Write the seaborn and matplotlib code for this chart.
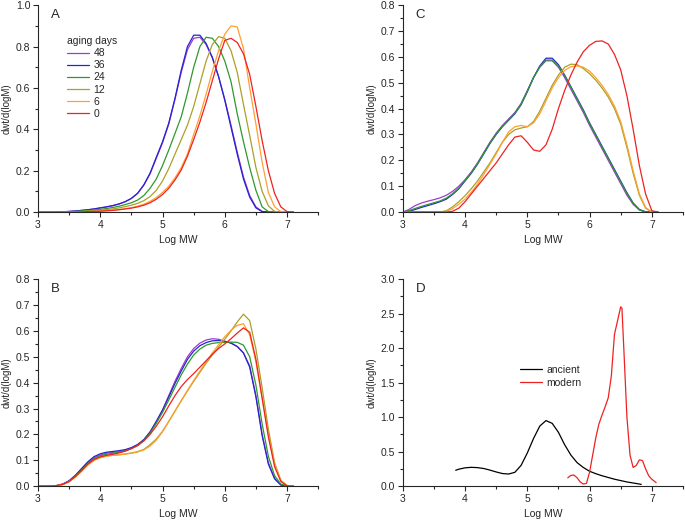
import numpy as np
import pandas as pd
import matplotlib
matplotlib.use("Agg")
import matplotlib.pyplot as plt
import seaborn as sns
from matplotlib.ticker import MultipleLocator

# ---- data ----
days = ["48", "36", "24", "12", "6", "0"]
colors = ["#a03ccc", "#2424d0", "#2e992e", "#aaa028", "#ffa030", "#ee2222"]

x_grid = [3.0, 3.1, 3.2, 3.3, 3.4, 3.5, 3.6, 3.7, 3.8, 3.9, 4.0, 4.1, 4.2, 4.3, 4.4,
          4.5, 4.6, 4.7, 4.8, 4.9, 5.0, 5.1, 5.2, 5.3, 5.4, 5.5, 5.6, 5.7, 5.8, 5.9,
          6.0, 6.1, 6.2, 6.3, 6.4, 6.5, 6.6, 6.7, 6.8, 6.9, 7.0, 7.1]

# panel A
a_48 = [0, 0, 0, 0, 0.001, 0.003, 0.005, 0.008, 0.011, 0.015, 0.02, 0.025, 0.031, 0.039, 0.05,
        0.066, 0.09, 0.13, 0.185, 0.26, 0.335, 0.425, 0.545, 0.675, 0.785, 0.84, 0.845, 0.81, 0.745, 0.655,
        0.545, 0.42, 0.29, 0.17, 0.08, 0.025, 0.003, 0, 0, 0, 0, 0]
a_36 = [0, 0, 0, 0, 0.001, 0.003, 0.005, 0.008, 0.011, 0.015, 0.02, 0.025, 0.031, 0.039, 0.05,
        0.066, 0.091, 0.132, 0.188, 0.265, 0.34, 0.43, 0.55, 0.685, 0.8, 0.855, 0.855, 0.815, 0.748, 0.655,
        0.54, 0.41, 0.28, 0.16, 0.072, 0.02, 0.002, 0, 0, 0, 0, 0]
a_24 = [0, 0, 0, 0, 0, 0.001, 0.003, 0.005, 0.007, 0.01, 0.013, 0.017, 0.022, 0.028, 0.036,
        0.045, 0.058, 0.08, 0.115, 0.16, 0.225, 0.3, 0.38, 0.46, 0.575, 0.7, 0.8, 0.845, 0.84, 0.8,
        0.73, 0.63, 0.475, 0.34, 0.215, 0.105, 0.025, 0.002, 0, 0, 0, 0]
a_12 = [0, 0, 0, 0, 0, 0, 0.001, 0.003, 0.005, 0.007, 0.009, 0.012, 0.015, 0.02, 0.026,
        0.033, 0.042, 0.055, 0.075, 0.105, 0.15, 0.21, 0.28, 0.35, 0.42, 0.51, 0.62, 0.73, 0.81, 0.848,
        0.84, 0.78, 0.675, 0.52, 0.37, 0.215, 0.1, 0.03, 0.003, 0, 0, 0]
a_6 = [0, 0, 0, 0, 0, 0, 0, 0.001, 0.002, 0.003, 0.005, 0.007, 0.009, 0.012, 0.016,
       0.021, 0.028, 0.038, 0.052, 0.07, 0.095, 0.125, 0.165, 0.215, 0.28, 0.375, 0.465, 0.57, 0.68, 0.78,
       0.86, 0.9, 0.895, 0.79, 0.6, 0.425, 0.24, 0.095, 0.025, 0.002, 0, 0]
a_0 = [0, 0, 0, 0, 0, 0, 0, 0.001, 0.002, 0.003, 0.004, 0.006, 0.008, 0.011, 0.015,
       0.019, 0.025, 0.033, 0.045, 0.062, 0.085, 0.115, 0.155, 0.203, 0.27, 0.35, 0.435, 0.53, 0.635, 0.74,
       0.83, 0.84, 0.82, 0.765, 0.665, 0.51, 0.345, 0.2, 0.09, 0.025, 0.002, 0]

# panel B
b_48 = [0, 0, 0, 0.002, 0.008, 0.02, 0.04, 0.065, 0.09, 0.11, 0.12, 0.127, 0.13, 0.133, 0.138,
        0.146, 0.158, 0.178, 0.208, 0.25, 0.295, 0.35, 0.405, 0.455, 0.5, 0.532, 0.553, 0.565, 0.57, 0.568,
        0.56, 0.553, 0.54, 0.515, 0.465, 0.35, 0.2, 0.09, 0.03, 0.005, 0, 0]
b_36 = [0, 0, 0, 0.002, 0.008, 0.021, 0.042, 0.068, 0.094, 0.114, 0.125, 0.131, 0.134, 0.137, 0.141,
        0.149, 0.161, 0.18, 0.21, 0.25, 0.293, 0.345, 0.397, 0.445, 0.49, 0.522, 0.543, 0.555, 0.562, 0.563,
        0.56, 0.553, 0.54, 0.515, 0.46, 0.345, 0.195, 0.085, 0.028, 0.004, 0, 0]
b_24 = [0, 0, 0, 0.002, 0.007, 0.019, 0.038, 0.062, 0.087, 0.106, 0.117, 0.123, 0.127, 0.131, 0.136,
        0.145, 0.157, 0.176, 0.205, 0.243, 0.285, 0.333, 0.382, 0.43, 0.472, 0.507, 0.53, 0.545, 0.552, 0.555,
        0.556, 0.557, 0.556, 0.545, 0.5, 0.39, 0.24, 0.115, 0.04, 0.008, 0, 0]
b_12 = [0, 0, 0, 0.002, 0.006, 0.017, 0.035, 0.058, 0.082, 0.1, 0.11, 0.116, 0.119, 0.121, 0.124,
        0.128, 0.133, 0.142, 0.16, 0.182, 0.212, 0.25, 0.29, 0.33, 0.368, 0.405, 0.44, 0.475, 0.507, 0.538,
        0.568, 0.6, 0.635, 0.665, 0.64, 0.53, 0.38, 0.22, 0.09, 0.022, 0.002, 0]
b_6 = [0, 0, 0, 0.002, 0.006, 0.017, 0.035, 0.058, 0.082, 0.1, 0.11, 0.116, 0.119, 0.121, 0.124,
       0.127, 0.132, 0.14, 0.155, 0.178, 0.21, 0.25, 0.29, 0.33, 0.37, 0.408, 0.445, 0.48, 0.515, 0.547,
       0.578, 0.603, 0.622, 0.628, 0.585, 0.48, 0.34, 0.2, 0.085, 0.022, 0.002, 0]
b_0 = [0, 0, 0, 0.002, 0.007, 0.018, 0.037, 0.06, 0.085, 0.103, 0.113, 0.119, 0.123, 0.128, 0.135,
       0.145, 0.157, 0.175, 0.2, 0.232, 0.268, 0.31, 0.35, 0.385, 0.412, 0.435, 0.46, 0.485, 0.51, 0.532,
       0.55, 0.57, 0.592, 0.612, 0.595, 0.49, 0.34, 0.19, 0.075, 0.018, 0.001, 0]

# panel C
c_48 = [0, 0.01, 0.025, 0.035, 0.042, 0.048, 0.055, 0.065, 0.08, 0.1, 0.125, 0.155, 0.19, 0.23, 0.27,
        0.305, 0.335, 0.36, 0.385, 0.42, 0.47, 0.52, 0.56, 0.585, 0.585, 0.56, 0.52, 0.475, 0.43, 0.385,
        0.335, 0.29, 0.245, 0.2, 0.155, 0.11, 0.065, 0.03, 0.008, 0, 0, 0]
c_36 = [0, 0.003, 0.01, 0.018, 0.025, 0.032, 0.04, 0.05, 0.068, 0.09, 0.12, 0.15, 0.185, 0.225, 0.265,
        0.3, 0.33, 0.355, 0.38, 0.415, 0.465, 0.52, 0.565, 0.595, 0.595, 0.57, 0.53, 0.485, 0.44, 0.395,
        0.345, 0.3, 0.255, 0.21, 0.165, 0.12, 0.075, 0.035, 0.01, 0.001, 0, 0]
c_24 = [0, 0.005, 0.014, 0.022, 0.029, 0.036, 0.043, 0.054, 0.071, 0.093, 0.122, 0.152, 0.187, 0.227, 0.267,
        0.302, 0.332, 0.357, 0.382, 0.417, 0.467, 0.52, 0.562, 0.588, 0.588, 0.565, 0.527, 0.482, 0.437, 0.392,
        0.342, 0.297, 0.252, 0.207, 0.162, 0.117, 0.072, 0.033, 0.009, 0, 0, 0]
c_12 = [0, 0, 0, 0, 0, 0, 0, 0.005, 0.02, 0.04, 0.063, 0.09, 0.12, 0.155, 0.19,
        0.23, 0.27, 0.3, 0.318, 0.325, 0.33, 0.35, 0.39, 0.44, 0.49, 0.53, 0.56, 0.572, 0.57, 0.555,
        0.535, 0.51, 0.48, 0.445, 0.4, 0.34, 0.25, 0.15, 0.065, 0.015, 0, 0]
c_6 = [0, 0, 0, 0, 0, 0, 0, 0.003, 0.013, 0.03, 0.05, 0.077, 0.108, 0.145, 0.185,
       0.225, 0.27, 0.31, 0.33, 0.335, 0.33, 0.345, 0.38, 0.43, 0.48, 0.52, 0.548, 0.562, 0.565, 0.56,
       0.545, 0.52, 0.49, 0.455, 0.41, 0.35, 0.26, 0.16, 0.07, 0.018, 0, 0]
c_0 = [0, 0, 0, 0, 0, 0, 0, 0, 0.003, 0.015, 0.04, 0.07, 0.1, 0.13, 0.16,
       0.19, 0.225, 0.26, 0.29, 0.295, 0.27, 0.24, 0.235, 0.26, 0.32, 0.4, 0.47, 0.53, 0.58, 0.62,
       0.645, 0.66, 0.662, 0.65, 0.61, 0.55, 0.45, 0.32, 0.18, 0.07, 0.005, 0]

# panel D
ancient_x = [3.85, 3.9, 4.0, 4.1, 4.2, 4.3, 4.4, 4.5, 4.6, 4.7, 4.8, 4.9, 5.0, 5.1, 5.2, 5.3,
             5.4, 5.5, 5.6, 5.7, 5.8, 5.9, 6.0, 6.1, 6.2, 6.3, 6.4, 6.5, 6.6, 6.7, 6.8, 6.83]
ancient_y = [0.23, 0.245, 0.265, 0.272, 0.268, 0.255, 0.232, 0.205, 0.182, 0.175, 0.2, 0.3, 0.48, 0.69,
             0.87, 0.95, 0.91, 0.78, 0.6, 0.45, 0.34, 0.27, 0.215, 0.18, 0.15, 0.125, 0.1, 0.08, 0.06,
             0.045, 0.03, 0.025]
modern_x = [5.65, 5.7, 5.75, 5.8, 5.85, 5.9, 5.95, 6.0, 6.05, 6.1, 6.15, 6.2, 6.25, 6.3, 6.35, 6.4,
            6.45, 6.5, 6.52, 6.55, 6.6, 6.65, 6.7, 6.75, 6.8, 6.85, 6.9, 6.95, 7.0, 7.07]
modern_y = [0.12, 0.155, 0.16, 0.12, 0.06, 0.03, 0.04, 0.2, 0.45, 0.7, 0.9, 1.03, 1.15, 1.28, 1.6, 2.2,
            2.4, 2.6, 2.58, 2.0, 1.0, 0.45, 0.27, 0.3, 0.38, 0.37, 0.25, 0.15, 0.1, 0.05]


def long_frame(series):
    rows = []
    for name, ys in zip(days, series):
        for x, y in zip(x_grid, ys):
            rows.append((x, y, name))
    return pd.DataFrame(rows, columns=["logmw", "dwt", "days"])


sns.set_style("ticks")
plt.rcParams["font.family"] = ["Liberation Sans", "DejaVu Sans"]
plt.rcParams["font.size"] = 7

fig = plt.figure(figsize=(6.85, 5.21), dpi=100)
axA = fig.add_axes([0.0555, 0.593, 0.409, 0.397])
axC = fig.add_axes([0.588, 0.593, 0.409, 0.397])
axB = fig.add_axes([0.0555, 0.067, 0.409, 0.397])
axD = fig.add_axes([0.588, 0.067, 0.409, 0.397])

pal = dict(zip(days, colors))
for ax, series in [(axA, [a_48, a_36, a_24, a_12, a_6, a_0]),
                   (axB, [b_48, b_36, b_24, b_12, b_6, b_0]),
                   (axC, [c_48, c_36, c_24, c_12, c_6, c_0])]:
    df = long_frame(series)
    sns.lineplot(data=df, x="logmw", y="dwt", hue="days", hue_order=days, palette=pal,
                 estimator=None, sort=False, linewidth=0.9, ax=ax, legend=(ax is axA))

sns.lineplot(x=ancient_x, y=ancient_y, color="black", linewidth=0.9, label="ancient",
             estimator=None, sort=False, ax=axD)
sns.lineplot(x=modern_x, y=modern_y, color="#ee2222", linewidth=0.9, label="modern",
             estimator=None, sort=False, ax=axD)

limits = {axA: (1.0, 0.2, 0.1), axB: (0.8, 0.1, 0.05), axC: (0.8, 0.1, 0.05), axD: (3.0, 0.5, 0.25)}
for ax, letter in [(axA, "A"), (axB, "B"), (axC, "C"), (axD, "D")]:
    top, major, minor = limits[ax]
    ax.set_xlim(3, 7.5)
    ax.set_ylim(0, top)
    ax.xaxis.set_major_locator(MultipleLocator(1))
    ax.xaxis.set_minor_locator(MultipleLocator(0.5))
    ax.yaxis.set_major_locator(MultipleLocator(major))
    ax.yaxis.set_minor_locator(MultipleLocator(minor))
    ax.yaxis.set_major_formatter(plt.FormatStrFormatter("%.1f"))
    ax.tick_params(which="major", length=3.5, width=0.8, labelsize=7.5, pad=2)
    ax.tick_params(which="minor", length=2, width=0.8)
    sns.despine(ax=ax)
    for s in ["left", "bottom"]:
        ax.spines[s].set_linewidth(0.8)
    ax.set_xlabel("Log MW", fontsize=7.5, labelpad=4)
    ax.set_ylabel("dwt/d(logM)", fontsize=7, labelpad=3)
    ax.text(0.045, 0.98, letter, transform=ax.transAxes, fontsize=9.5, va="top", ha="left")

leg = axA.legend(title="aging days", loc="upper left", bbox_to_anchor=(0.105, 0.85), frameon=False,
                 fontsize=7.5, title_fontsize=7.5, handlelength=2.1, handletextpad=0.4,
                 labelspacing=0.2, borderaxespad=0, borderpad=0)
leg._legend_box.align = "left"
axD.legend(loc="upper left", bbox_to_anchor=(0.42, 0.585), frameon=False, fontsize=7.5,
           handlelength=2.1, handletextpad=0.4, labelspacing=0.25, borderaxespad=0, borderpad=0)

fig.savefig("out.png", dpi=100)
